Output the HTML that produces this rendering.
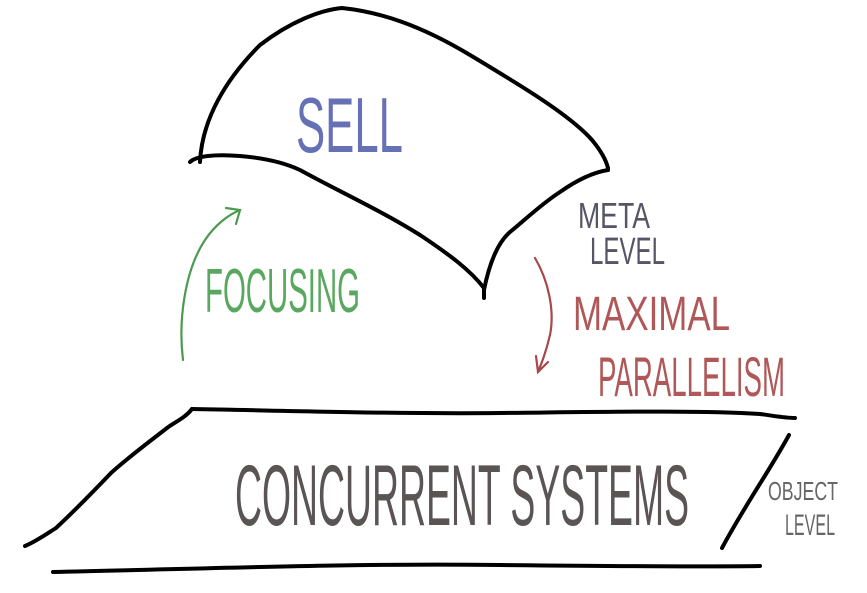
<!DOCTYPE html>
<html><head><meta charset="utf-8"><style>
html,body{margin:0;padding:0;background:#fff;}
svg{display:block;}
text{font-family:"Liberation Sans Narrow","Liberation Sans",sans-serif;}
</style></head><body>
<svg width="867" height="593" viewBox="0 0 867 593" xmlns="http://www.w3.org/2000/svg">
<g fill="none" stroke="#000" stroke-width="4" stroke-linecap="round" stroke-linejoin="round">
<path d="M200,162 C202,120 225,80 260,45 C290,22 320,10 342,8 C380,12 420,25 470,55 C520,85 570,115 592,140 C602,152 606,160 608,168"/>
<path d="M190,162 C196,156 215,154 240,156 C265,158 285,163 300,170 C340,192 380,210 420,235 C450,255 470,270 484,288 L484,298"/>
<path d="M484,290 C488,270 495,245 510,232 C525,220 540,205 560,192 C580,178 595,172 608,170"/>
<path d="M192,409 C300,411 400,414 500,413 C600,412 700,410 760,414 C775,416 785,418 795,418"/>
<path d="M192,409 C185,418 175,422 167,428 C145,445 125,460 111,473 C90,495 70,515 56,528 C45,535 35,542 25,546"/>
<path d="M53,572 C200,569 350,563 500,565 C600,566 700,567 760,566"/>
<path d="M789,435 C770,470 745,505 722,548"/>
</g>
<g fill="none" stroke-width="2.2" stroke-linecap="round">
<path d="M183,360 C178,320 185,270 205,240 C215,225 228,215 240,210" stroke="#4a9a50"/>
<path d="M226,208 L240,210 L236,224" stroke="#4a9a50"/>
<path d="M535,258 C548,280 555,310 550,335 C546,352 542,362 538,372" stroke="#a84848"/>
<path d="M536,356 L538,372 L548,362" stroke="#a84848"/>
</g>
<text x="296" y="152" font-size="78" fill="#6670b4" textLength="107" lengthAdjust="spacingAndGlyphs">SELL</text>
<text x="205" y="312" font-size="62" fill="#5aa860" textLength="155" lengthAdjust="spacingAndGlyphs">FOCUSING</text>
<text x="573" y="330" font-size="48" fill="#b05858" textLength="157" lengthAdjust="spacingAndGlyphs">MAXIMAL</text>
<text x="598" y="396" font-size="56" fill="#b05858" textLength="187" lengthAdjust="spacingAndGlyphs">PARALLELISM</text>
<text x="578" y="228" font-size="36" fill="#555566" textLength="72" lengthAdjust="spacingAndGlyphs">META</text>
<text x="590" y="264" font-size="38" fill="#555566" textLength="75" lengthAdjust="spacingAndGlyphs">LEVEL</text>
<text x="235" y="525" font-size="86" fill="#5a5454" textLength="454" lengthAdjust="spacingAndGlyphs">CONCURRENT SYSTEMS</text>
<text x="768" y="500" font-size="26" fill="#666" textLength="70" lengthAdjust="spacingAndGlyphs">OBJECT</text>
<text x="785" y="535" font-size="30" fill="#666" textLength="50" lengthAdjust="spacingAndGlyphs">LEVEL</text>
</svg>
</body></html>
